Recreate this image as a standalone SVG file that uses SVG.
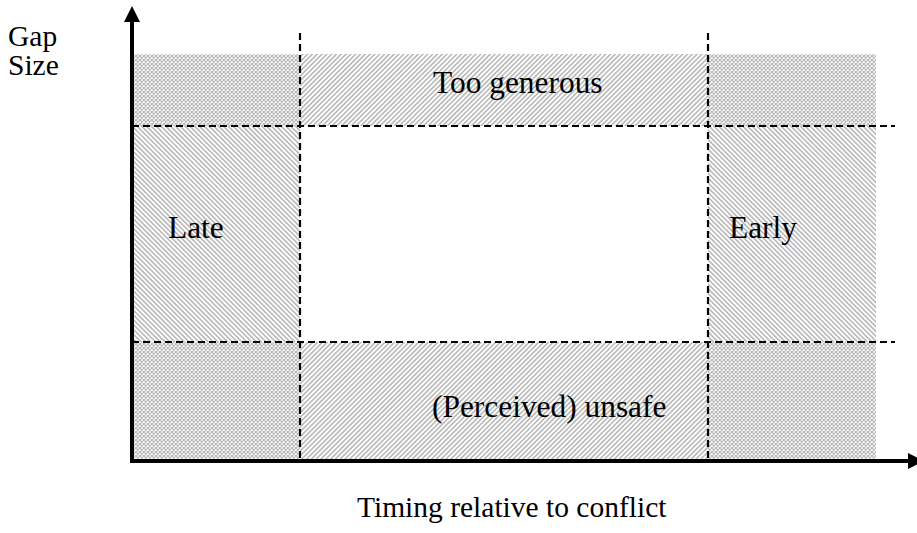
<svg xmlns="http://www.w3.org/2000/svg" width="917" height="533" viewBox="0 0 917 533">
<style>
text{font-family:"Liberation Serif","Times New Roman",serif;font-size:31.4px;fill:#000}
.small{font-size:29.5px}
.dash{stroke:#000;stroke-width:2.2;stroke-dasharray:7 4;fill:none}
.axis{stroke:#000;stroke-width:4;fill:none}
</style>
<defs>
<pattern id="fwd" width="3.4" height="10" patternUnits="userSpaceOnUse" patternTransform="rotate(45)">
<rect width="3.4" height="10" fill="#fff"/>
<rect width="1.5" height="10" fill="#b4b4b4"/>
</pattern>
<pattern id="back" width="3.4" height="10" patternUnits="userSpaceOnUse" patternTransform="rotate(-45)">
<rect width="3.4" height="10" fill="#fff"/>
<rect width="1.5" height="10" fill="#b4b4b4"/>
</pattern>
<pattern id="cross" width="4" height="4" patternUnits="userSpaceOnUse">
<rect width="4" height="4" fill="#fff"/>
<path d="M0,0L4,4M4,0L0,4" stroke="#b8b8b8" stroke-width="1.2"/>
</pattern>
</defs>
<g id="regions">
<g id="corner-tl"><rect x="132" y="54" width="168" height="72" fill="url(#cross)"/></g>
<g id="corner-tr"><rect x="708" y="54" width="168" height="72" fill="url(#cross)"/></g>
<g id="corner-bl"><rect x="132" y="342" width="168" height="118" fill="url(#cross)"/></g>
<g id="corner-br"><rect x="708" y="342" width="168" height="118" fill="url(#cross)"/></g>
<g id="too-generous"><rect x="300" y="54" width="408" height="72" fill="url(#fwd)"/><text x="433" y="93">Too generous</text></g>
<g id="unsafe"><rect x="300" y="342" width="408" height="118" fill="url(#fwd)"/><text x="432" y="417">(Perceived) unsafe</text></g>
<g id="late"><rect x="132" y="126" width="168" height="216" fill="url(#back)"/><text x="168" y="238">Late</text></g>
<g id="early"><rect x="708" y="126" width="168" height="216" fill="url(#back)"/><text x="729" y="238">Early</text></g>
</g>
<g id="connectors">
<line class="dash" x1="300" y1="33" x2="300" y2="460"/>
<line class="dash" x1="708" y1="33" x2="708" y2="460"/>
<line class="dash" x1="132" y1="126" x2="895" y2="126"/>
<line class="dash" x1="132" y1="342" x2="895" y2="342"/>
<line class="axis" x1="132" y1="463" x2="132" y2="20"/>
<polygon points="124,22 140,22 132,6" fill="#000"/>
<line class="axis" x1="130" y1="461" x2="910" y2="461"/>
<polygon points="908,453 908,469 924,461" fill="#000"/>
</g>
<g id="labels">
<text class="small" x="8" y="46">Gap</text>
<text class="small" x="8" y="75">Size</text>
<text class="small" x="357" y="517">Timing relative to conflict</text>
</g>
</svg>
